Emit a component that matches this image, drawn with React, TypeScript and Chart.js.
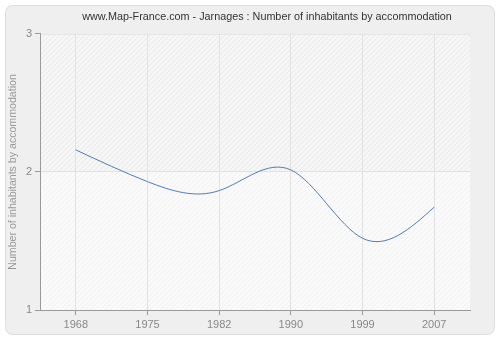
import React, { useEffect, useRef } from "react";
import { Chart, registerables } from "chart.js";

Chart.register(...registerables);

const categories = ["1968", "1975", "1982", "1990", "1999", "2007"];
const values = [2.16, 1.93, 1.865, 2.015, 1.52, 1.745];
const yTicks = [1, 2, 3];

const FONT = "'Liberation Sans', Arial, sans-serif";

function makePattern(bg: string, line: string) {
  const c = document.createElement("canvas");
  c.width = 5;
  c.height = 5;
  const g = c.getContext("2d")!;
  g.fillStyle = bg;
  g.fillRect(0, 0, 5, 5);
  g.strokeStyle = line;
  g.lineWidth = 1;
  g.beginPath();
  g.moveTo(0, 5);
  g.lineTo(5, 0);
  g.moveTo(-2.5, 2.5);
  g.lineTo(2.5, -2.5);
  g.moveTo(2.5, 7.5);
  g.lineTo(7.5, 2.5);
  g.stroke();
  return c;
}

// Natural cubic spline control points (computed on the pixel positions that Chart.js gives)
const naturalSplinePlugin = {
  id: "naturalSpline",
  beforeDatasetDraw(chart: any, args: any) {
    const meta = args.meta;
    const line = meta.dataset;
    if (!line) return;
    line.updateControlPoints(chart.chartArea, "x");
    const pts = meta.data;
    const n = pts.length;
    if (n < 3) return;
    const xs = pts.map((p: any) => p.x);
    const ys = pts.map((p: any) => p.y);
    const h: number[] = [];
    for (let i = 0; i < n - 1; i++) h.push(xs[i + 1] - xs[i]);
    const a: number[] = new Array(n).fill(0);
    const b: number[] = new Array(n).fill(1);
    const c: number[] = new Array(n).fill(0);
    const d: number[] = new Array(n).fill(0);
    for (let i = 1; i < n - 1; i++) {
      a[i] = h[i - 1];
      b[i] = 2 * (h[i - 1] + h[i]);
      c[i] = h[i];
      d[i] = 6 * ((ys[i + 1] - ys[i]) / h[i] - (ys[i] - ys[i - 1]) / h[i - 1]);
    }
    const cp: number[] = new Array(n).fill(0);
    const dp: number[] = new Array(n).fill(0);
    cp[0] = c[0] / b[0];
    dp[0] = d[0] / b[0];
    for (let i = 1; i < n; i++) {
      const m = b[i] - a[i] * cp[i - 1];
      cp[i] = c[i] / m;
      dp[i] = (d[i] - a[i] * dp[i - 1]) / m;
    }
    const M: number[] = new Array(n).fill(0);
    M[n - 1] = dp[n - 1];
    for (let i = n - 2; i >= 0; i--) M[i] = dp[i] - cp[i] * M[i + 1];
    const der: number[] = new Array(n).fill(0);
    for (let i = 0; i < n - 1; i++) {
      der[i] = (ys[i + 1] - ys[i]) / h[i] - (h[i] * (2 * M[i] + M[i + 1])) / 6;
    }
    der[n - 1] =
      (ys[n - 1] - ys[n - 2]) / h[n - 2] + (h[n - 2] * (M[n - 2] + 2 * M[n - 1])) / 6;
    for (let i = 0; i < n; i++) {
      const p = pts[i];
      const hl = i > 0 ? h[i - 1] : 0;
      const hr = i < n - 1 ? h[i] : 0;
      p.cp1x = xs[i] - hl / 3;
      p.cp1y = ys[i] - (hl / 3) * der[i];
      p.cp2x = xs[i] + hr / 3;
      p.cp2y = ys[i] + (hr / 3) * der[i];
    }
    line._path = undefined;
  },
};

// shift the title so that it is centred where the reference has it
const titleShiftPlugin = {
  id: "titleShift",
  afterLayout(chart: any) {
    const t = chart.titleBlock;
    if (t) {
      t.left = 34;
      t.right = 500;
      t.width = 466;
    }
  },
};

const backgroundPlugin = {
  id: "bgPanel",
  beforeDraw(chart: any) {
    const ctx = chart.ctx as CanvasRenderingContext2D;
    ctx.save();
    ctx.fillStyle = "#ffffff";
    ctx.fillRect(0, 0, chart.width, chart.height);
    const x = 5.5, y = 5.5, w = 489, h = 329, r = 8;
    ctx.beginPath();
    ctx.moveTo(x + r, y);
    ctx.lineTo(x + w - r, y);
    ctx.quadraticCurveTo(x + w, y, x + w, y + r);
    ctx.lineTo(x + w, y + h - r);
    ctx.quadraticCurveTo(x + w, y + h, x + w - r, y + h);
    ctx.lineTo(x + r, y + h);
    ctx.quadraticCurveTo(x, y + h, x, y + h - r);
    ctx.lineTo(x, y + r);
    ctx.quadraticCurveTo(x, y, x + r, y);
    ctx.closePath();
    ctx.fillStyle = "#efefef";
    ctx.fill();
    ctx.strokeStyle = "#dddddd";
    ctx.lineWidth = 1;
    ctx.stroke();

    const a = chart.chartArea;
    const ys = chart.scales.y;
    const mid = ys.getPixelForValue(2);
    const up = ctx.createPattern(makePattern("#f6f6f6", "#e8e8e8"), "repeat")!;
    const low = ctx.createPattern(makePattern("#fafafa", "#f1f1f1"), "repeat")!;
    ctx.fillStyle = up;
    ctx.fillRect(a.left, a.top, a.right - a.left, mid - a.top);
    ctx.fillStyle = low;
    ctx.fillRect(a.left, mid, a.right - a.left, a.bottom - mid);
    ctx.strokeStyle = "#e6e6e6";
    ctx.beginPath();
    ctx.moveTo(a.left, a.top + 0.5);
    ctx.lineTo(a.right, a.top + 0.5);
    ctx.stroke();
    ctx.restore();
  },
};

export default function App() {
  const ref = useRef<HTMLCanvasElement>(null);
  useEffect(() => {
    const chart = new Chart(ref.current!, {
      type: "line",
      data: {
        labels: categories,
        datasets: [
          {
            data: values,
            borderColor: "#4f7db5",
            borderWidth: 1,
            pointRadius: 0,
            tension: 0.4,
            fill: false,
          },
        ],
      },
      options: {
        animation: false,
        responsive: false,
        layout: { padding: { left: 3, right: 30, top: 0, bottom: 0 } },
        plugins: {
          legend: { display: false },
          tooltip: { enabled: false },
          title: {
            display: true,
            text: "www.Map-France.com - Jarnages : Number of inhabitants by accommodation",
            color: "#333333",
            font: { family: FONT, size: 10.8, weight: "normal" },
            padding: { top: 11, bottom: 10 },
          },
        },
        scales: {
          x: {
            type: "category",
            offset: true,
            afterFit: (s: any) => {
              s.height = 30;
            },
            border: { color: "#999999", width: 1 },
            grid: {
              offset: false,
              color: "#e2e2e2",
              borderDash: [4, 4],
              tickLength: 5,
              tickColor: "#999999",
              tickBorderDash: [],
            },
            ticks: {
              color: "#888888",
              padding: 3,
              font: { family: FONT, size: 11 },
              maxRotation: 0,
            },
          },
          y: {
            min: 1,
            max: 3,
            afterFit: (s: any) => {
              s.width = 37;
            },
            afterBuildTicks: (s: any) => {
              s.ticks = yTicks.map((v) => ({ value: v }));
            },
            border: { color: "#999999", width: 1 },
            grid: {
              color: (c: any) => (c.tick && c.tick.value === 2 ? "#e2e2e2" : "rgba(0,0,0,0)"),
              borderDash: [4, 4],
              tickLength: 5,
              tickColor: "#999999",
              tickBorderDash: [],
            },
            ticks: {
              color: "#888888",
              padding: 3,
              font: { family: FONT, size: 11 },
            },
            title: {
              display: true,
              text: "Number of inhabitants by accommodation",
              color: "#999999",
              font: { family: FONT, size: 10.6 },
              padding: 4,
            },
          },
        },
      },
      plugins: [backgroundPlugin, naturalSplinePlugin, titleShiftPlugin],
    });
    return () => chart.destroy();
  }, []);
  return (
    <div style={{ position: "absolute", left: 0, top: 0, width: 500, height: 340 }}>
      <canvas ref={ref} width={500} height={340} style={{ width: 500, height: 340 }} />
    </div>
  );
}
